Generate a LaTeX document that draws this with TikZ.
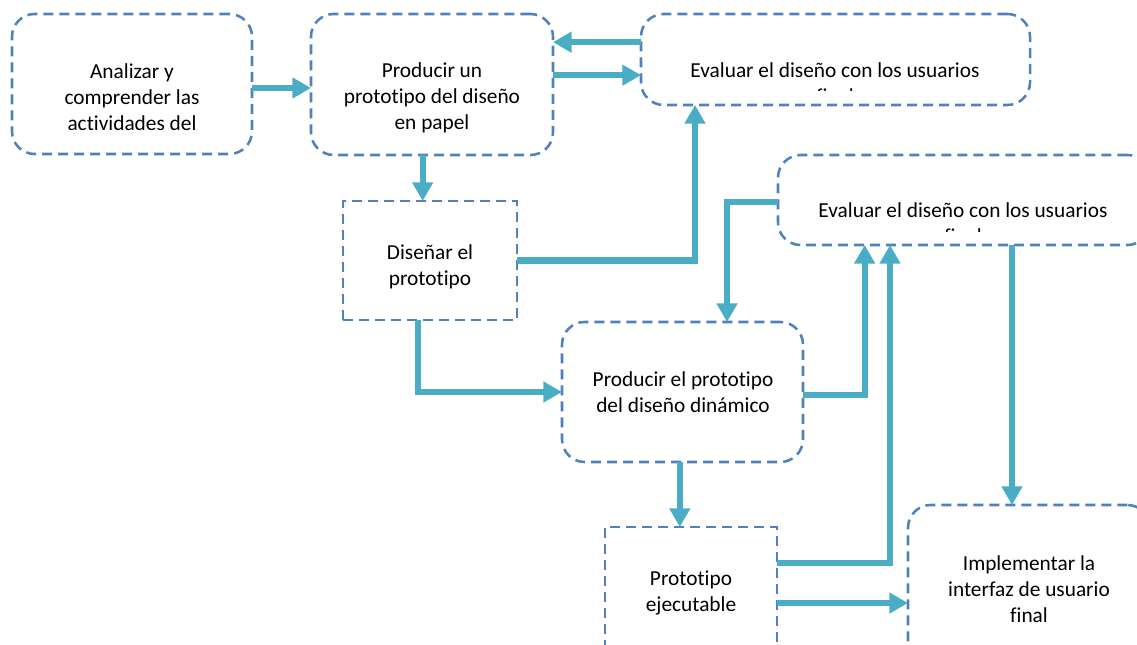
\documentclass[tikz,border=0pt]{standalone}
\usepackage{fontspec}
\setmainfont{Carlito}[Ligatures=NoCommon]
\usetikzlibrary{fit,arrows.meta}
\definecolor{boxblue}{RGB}{79,129,189}
\definecolor{arrowblue}{RGB}{75,172,198}
\tikzset{
  box/.style={draw=boxblue, line width=1.9pt, dash pattern=on 7.5pt off 4.5pt, inner sep=0pt, outer sep=0pt},
  roundbox/.style={box, rounded corners=17pt},
  txt/.style={align=center, text=black, inner sep=0pt, font=\fontsize{16}{19.5}\selectfont},
  arr/.style={draw=arrowblue, line width=4.6pt, -{Triangle[width=15pt,length=14pt]}}
}
\begin{document}
\begin{tikzpicture}[x=0.75pt,y=-0.75pt]
\useasboundingbox (0,0) rectangle (1137,645);
\clip (0,0) rectangle (1137,645);
% boxes
\node[roundbox, fit={(12,14) (252,154)}] (A) {};
\node[roundbox, fit={(311,14) (553,155)}] (P) {};
\node[roundbox, fit={(641,14) (1030,105)}] (E1) {};
\node[box, fit={(343,201) (517,320)}] (D) {};
\node[roundbox, fit={(778,155) (1150,245)}] (E2) {};
\node[roundbox, fit={(562,322) (803,462)}] (PD) {};
\node[box, fit={(605,527) (777,662)}] (PE) {};
\node[roundbox, fit={(908,505) (1150,680)}] (I) {};
% texts
\node[txt] (At) at (132,97) {Analizar y\\comprender las\\actividades del};
\node[txt] (Pt) at (432,98) {Producir un\\prototipo del diseño\\en papel};
\begin{scope}
\clip (641,14) rectangle (1030,91);
\node[txt] (E1t) at (835,83) {Evaluar el diseño con los usuarios\\final};
\end{scope}
\node[txt] (Dt) at (430,267) {Diseñar el\\prototipo};
\begin{scope}
\clip (778,155) rectangle (1150,231);
\node[txt] (E2t) at (963,223) {Evaluar el diseño con los usuarios\\final};
\end{scope}
\node[txt] (PDt) at (683,392) {Producir el prototipo\\del diseño dinámico};
\node[txt] (PEt) at (691,593) {Prototipo\\ejecutable};
\node[txt] (It) at (1029,589) {Implementar la\\interfaz de usuario\\final};
% connectors
\path ([yshift=-3pt]A.east) coordinate (a1);
\draw[arr] (a1) -- (a1 -| P.west);
\path ([yshift=7pt]P.east) coordinate (b1);
\draw[arr] (b1) -- (b1 -| E1.west);
\path ([yshift=13pt]E1.west) coordinate (c1);
\draw[arr] (c1) -- (c1 -| P.east);
\path ([xshift=-7pt]P.south) coordinate (d1);
\draw[arr] (d1) -- (d1 |- D.north);
\draw[arr] (D.east) -| ([xshift=40.5pt]E1.south west);
\draw[arr] ([xshift=-9pt]D.south) |- (PD.west);
\draw[arr] ([yshift=-1.5pt]E2.west) -| ([xshift=33.4pt]PD.north);
\draw[arr] ([yshift=-2pt]PD.east) -| ([xshift=65pt]E2.south west);
\path ([xshift=-2pt]PD.south) coordinate (i1);
\draw[arr] (i1) -- (i1 |- PE.north);
\draw[arr] ([yshift=23.6pt]PE.east) -| ([xshift=84pt]E2.south west);
\path ([yshift=-6.4pt]PE.east) coordinate (k1);
\draw[arr] (k1) -- (k1 -| I.west);
\path ([xshift=175.5pt]E2.south west) coordinate (l1);
\draw[arr] (l1) -- (l1 |- I.north);
\end{tikzpicture}
\end{document}
